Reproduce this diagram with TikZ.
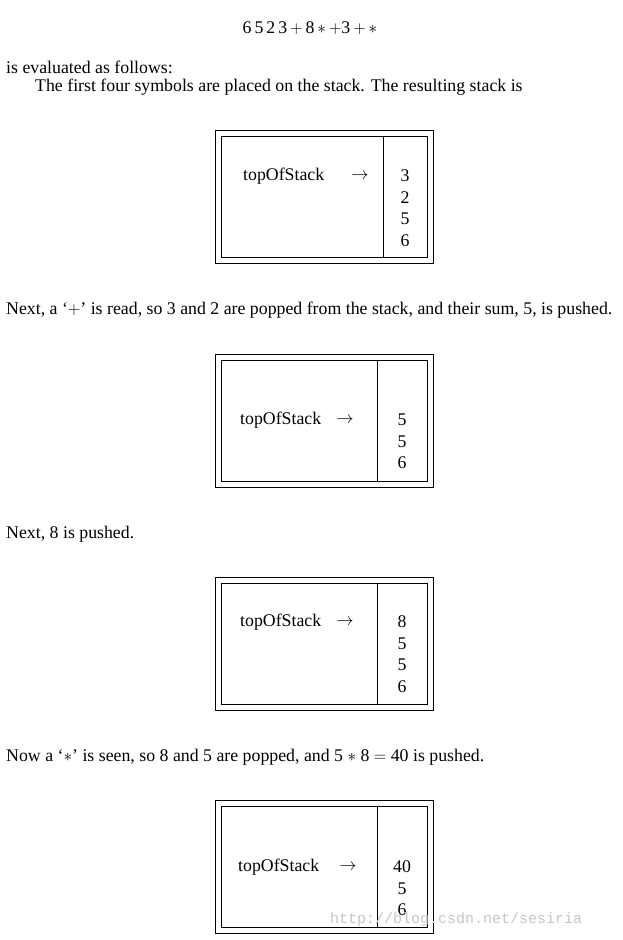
\documentclass[tikz,border=0pt]{standalone}
\usepackage{fontspec}
\setmainfont{Liberation Serif}
\setmonofont{Liberation Mono}
\usetikzlibrary{positioning}
\tikzset{
         mytext/.style={anchor=west, inner sep=0pt, font=\fontsize{17.8}{20}\selectfont},
         mynum/.style={inner sep=0pt, font=\fontsize{17.8}{20}\selectfont},
         myouter/.style={draw, semithick},
         myinner/.style={draw, semithick}
      }
\newcommand{\stackbox}[8]{% top y, divider x, label x, arrow x, num x, first num y, name, numbers
  \draw[myouter] (215,#1) rectangle (433,#1+133);
  \draw[myinner] (221,#1+6) rectangle (427,#1+127);
  \draw[semithick] (#2,#1+6) -- (#2,#1+127);
  \node[mytext] (#7label) at (#3,#6) {topOfStack};
  \node[mynum] (#7arrow) at (#4,#6) {$\rightarrow$};
  \foreach \v [count=\i from 0] in {#8}
    \node[mynum] (#7n\i) at (#5,#6+21.5*\i) {\v};
}
\begin{document}
\begin{tikzpicture}[x=1pt,y=-1pt]
  \useasboundingbox (0,0) rectangle (622,940);
  \node[mynum] (expr) at (310,28) {6\,5\,2\,3\,$+$\,8\,$\ast$\,$+$3\,$+$\,$\ast$};
  \node[mytext] (line1) at (6,67) {is evaluated as follows:};
  \node[mytext] (line2) at (35,87) {The first four symbols are placed on the stack. The resulting stack is};
  \stackbox{130}{383}{243}{360}{405}{176}{sa}{3,2,5,6}
  \node[mytext] (line3) at (6,310) {Next, a `$+$' is read, so 3 and 2 are popped from the stack, and their sum, 5, is pushed.};
  \stackbox{354}{377}{240}{345}{402}{420}{sb}{5,5,6}
  \node[mytext] (line4) at (6,534) {Next, 8 is pushed.};
  \stackbox{577}{377}{240}{345}{402}{622}{sc}{8,5,5,6}
  \node[mytext] (line5) at (6,757) {Now a `$\ast$' is seen, so 8 and 5 are popped, and 5 $\ast$ 8 $=$ 40 is pushed.};
  \stackbox{800}{377}{238}{348}{402}{867}{sd}{40,5,6}
  \node[mytext, font=\ttfamily\fontsize{15}{17}\selectfont, text=gray!45] (mark) at (330,920) {http://blog.csdn.net/sesiria};
\end{tikzpicture}
\end{document}
